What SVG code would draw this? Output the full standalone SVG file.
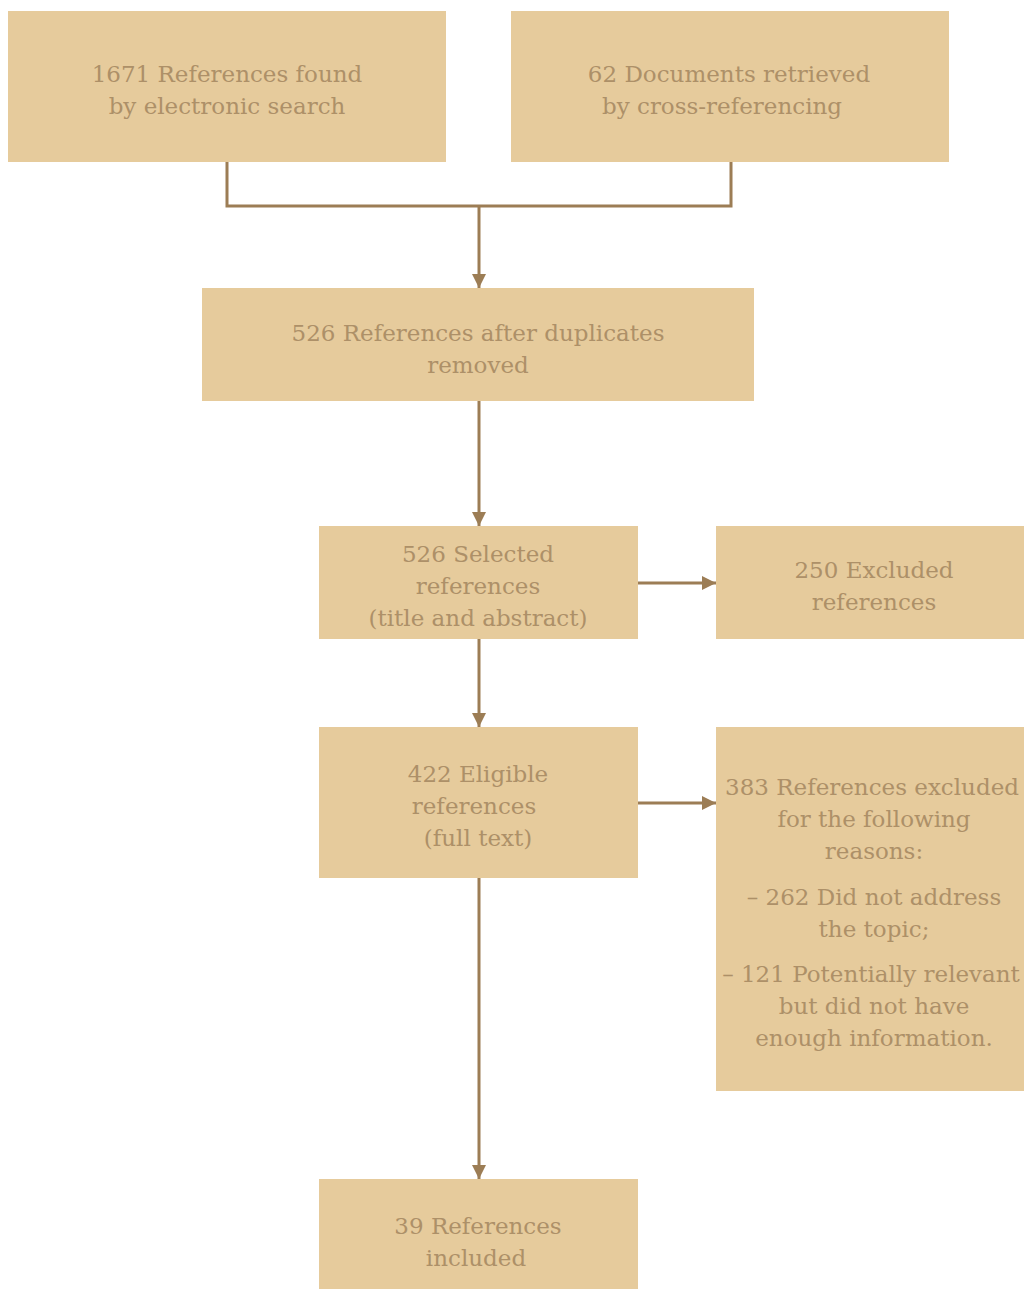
<svg xmlns="http://www.w3.org/2000/svg" width="1024" height="1290" viewBox="0 0 1024 1290">
<style>
.box{fill:#E6CB9C}
.t{font-family:"DejaVu Serif","Liberation Serif",serif;font-size:23px;font-weight:300;fill:#AD9068;text-anchor:middle}
.c{stroke:#9C7D55;stroke-width:3;fill:none}
</style>
<defs>
<marker id="ah" markerWidth="14" markerHeight="14" refX="14" refY="7" orient="auto" markerUnits="userSpaceOnUse">
<path d="M0,0 L14,7 L0,14 Z" fill="#9C7D55"/>
</marker>
</defs>
<rect width="1024" height="1290" fill="#fff"/>
<g id="n1"><rect class="box" x="8" y="11" width="438" height="151"/>
<text class="t" x="227" y="82">1671 References found</text><text class="t" x="227" y="114">by electronic search</text></g>
<g id="n2"><rect class="box" x="511" y="11" width="438" height="151"/>
<text class="t" x="729" y="82">62 Documents retrieved</text><text class="t" x="722" y="114">by cross-referencing</text></g>
<g id="n3"><rect class="box" x="202" y="288" width="552" height="113"/>
<text class="t" x="478" y="341">526 References after duplicates</text><text class="t" x="478" y="373">removed</text></g>
<g id="n4"><rect class="box" x="319" y="526" width="319" height="113"/>
<text class="t" x="478" y="562">526 Selected</text><text class="t" x="478" y="594">references</text><text class="t" x="478" y="626">(title and abstract)</text></g>
<g id="n5"><rect class="box" x="716" y="526" width="308" height="113"/>
<text class="t" x="874" y="578">250 Excluded</text><text class="t" x="874" y="610">references</text></g>
<g id="n6"><rect class="box" x="319" y="727" width="319" height="151"/>
<text class="t" x="478" y="782">422 Eligible</text><text class="t" x="474" y="814">references</text><text class="t" x="478" y="846">(full text)</text></g>
<g id="n7"><rect class="box" x="716" y="727" width="308" height="364"/>
<text class="t" x="872" y="795">383 References excluded</text><text class="t" x="874" y="827">for the following</text><text class="t" x="874" y="859">reasons:</text>
<text class="t" x="874" y="905">– 262 Did not address</text><text class="t" x="874" y="937">the topic;</text>
<text class="t" x="871" y="982">– 121 Potentially relevant</text><text class="t" x="874" y="1014">but did not have</text><text class="t" x="874" y="1046">enough information.</text></g>
<g id="n8"><rect class="box" x="319" y="1179" width="319" height="110"/>
<text class="t" x="478" y="1234">39 References</text><text class="t" x="476" y="1266">included</text></g>
<g id="connectors">
<path class="c" d="M227,162 V206 H731 V162"/>
<path class="c" d="M479,206 V288" marker-end="url(#ah)"/>
<path class="c" d="M479,401 V526" marker-end="url(#ah)"/>
<path class="c" d="M638,583 H716" marker-end="url(#ah)"/>
<path class="c" d="M479,639 V727" marker-end="url(#ah)"/>
<path class="c" d="M638,803 H716" marker-end="url(#ah)"/>
<path class="c" d="M479,878 V1179" marker-end="url(#ah)"/>
</g>
</svg>
